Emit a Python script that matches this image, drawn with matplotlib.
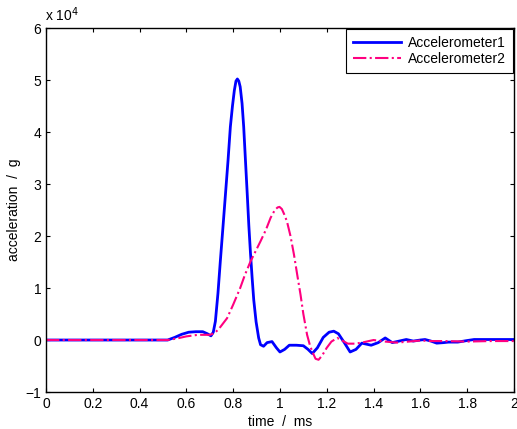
import matplotlib
matplotlib.use('Agg')
import matplotlib.pyplot as plt
from matplotlib.ticker import FuncFormatter

# time in ms, acceleration in units of 1e4 g
t1 = [0.0, 0.2, 0.4, 0.52, 0.55, 0.58, 0.61, 0.64, 0.67, 0.69, 0.705, 0.715,
      0.724, 0.735, 0.745, 0.756, 0.767, 0.778, 0.788, 0.797, 0.805, 0.812,
      0.818, 0.824, 0.83, 0.838, 0.845, 0.852, 0.86, 0.867, 0.874, 0.881,
      0.888, 0.898, 0.909, 0.917, 0.93, 0.945, 0.966, 0.985, 1.0, 1.02, 1.04,
      1.07, 1.10, 1.12, 1.138, 1.16, 1.185, 1.21, 1.23, 1.25, 1.275, 1.30,
      1.325, 1.35, 1.37, 1.39, 1.42, 1.45, 1.48, 1.51, 1.54, 1.57, 1.60, 1.62,
      1.645, 1.67, 1.70, 1.72, 1.76, 1.80, 1.83, 1.9, 2.0]
a1 = [0.0, 0.0, 0.0, 0.0, 0.05, 0.11, 0.15, 0.16, 0.16, 0.12, 0.08, 0.15,
      0.36, 0.9, 1.51, 2.15, 2.8, 3.45, 4.1, 4.5, 4.8, 4.98,
      5.02, 4.98, 4.87, 4.55, 4.1, 3.5, 2.82, 2.2, 1.67, 1.2,
      0.77, 0.35, 0.04, -0.09, -0.12, -0.05, -0.03, -0.15, -0.23, -0.18, -0.1,
      -0.1, -0.11, -0.18, -0.26, -0.15, 0.05, 0.15, 0.17, 0.12, -0.05, -0.23,
      -0.18, -0.06, -0.08, -0.1, -0.05, 0.04, -0.05, -0.02, 0.01, -0.02, 0.0, 0.01,
      -0.02, -0.06, -0.05, -0.04, -0.04, -0.01, 0.01, 0.01, 0.01]

t2 = [0.0, 0.2, 0.4, 0.52, 0.56, 0.60, 0.65, 0.68, 0.70, 0.72, 0.74, 0.757,
      0.774, 0.80, 0.83, 0.85, 0.874, 0.895, 0.917, 0.94, 0.96, 0.978, 0.99,
      0.998, 1.008, 1.018, 1.03, 1.045, 1.06, 1.074, 1.088, 1.10, 1.116, 1.128,
      1.138, 1.152, 1.165, 1.18, 1.20, 1.22, 1.245, 1.27, 1.29, 1.32, 1.35,
      1.40, 1.45, 1.50, 1.55, 1.60, 1.65, 1.70, 1.80, 1.90, 2.0]
a2 = [0.0, 0.0, 0.0, 0.0, 0.03, 0.07, 0.1, 0.1, 0.1, 0.13, 0.22, 0.32,
      0.42, 0.68, 1.0, 1.25, 1.51, 1.7, 1.9, 2.12, 2.35, 2.5, 2.55,
      2.56, 2.52, 2.42, 2.28, 2.0, 1.64, 1.25, 0.87, 0.5, 0.1, -0.1,
      -0.22, -0.36, -0.38, -0.3, -0.15, -0.03, 0.04, -0.02, -0.07, -0.07, -0.05,
      0.0, -0.03, -0.05, -0.03, -0.01, -0.02, -0.02, -0.03, -0.02, -0.02]

plt.rcParams['font.family'] = ['Liberation Sans', 'DejaVu Sans']

fig = plt.figure(figsize=(5.17, 4.29), dpi=100)
ax = fig.add_axes([0.089, 0.0862, 0.905, 0.8485])

ax.plot(t1, a1, color='#0000ff', linewidth=2, label='Accelerometer1')
ax.plot(t2, a2, color='#ff0080', linewidth=1.5, linestyle='-.',
        label='Accelerometer2')

ax.set_xlim(0, 2)
ax.set_ylim(-1, 6)
ax.set_xticks([0, 0.2, 0.4, 0.6, 0.8, 1, 1.2, 1.4, 1.6, 1.8, 2])
ax.set_yticks(range(-1, 7))
ax.xaxis.set_major_formatter(FuncFormatter(lambda v, p: '%g' % round(v, 2)))
ax.tick_params(direction='in', top=True, right=True, labelsize=10, length=3)
for s in ax.spines.values():
    s.set_linewidth(1)

ax.set_xlabel('time  /  ms', fontsize=10, labelpad=3)
ax.set_ylabel('acceleration  /  g', fontsize=10, labelpad=3)
ax.text(-0.003, 1.012, r'x 10$^4$', transform=ax.transAxes, fontsize=10,
        ha='left', va='bottom')

leg = ax.legend(loc='upper right', fontsize=10, fancybox=False, framealpha=1,
                edgecolor='black', borderaxespad=0.05, handlelength=3.5,
                handletextpad=0.5, labelspacing=0.15, borderpad=0.5)
leg.get_frame().set_linewidth(0.8)

plt.savefig('out.png', dpi=100)
